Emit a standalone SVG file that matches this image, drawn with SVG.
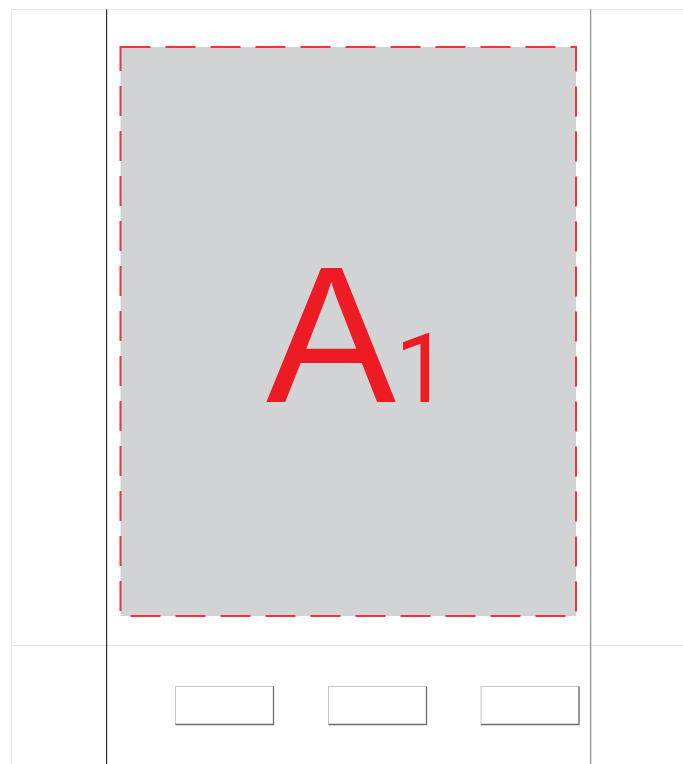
<svg xmlns="http://www.w3.org/2000/svg" width="683" height="764" viewBox="0 0 683 764">
<style>
.frame{stroke:#e6e6e6;stroke-width:1.2;fill:none}
.btn{fill:#ffffff;stroke:#c8c8c8;stroke-width:1}
.btnsh{stroke:#6d6d6d;stroke-width:1.3;fill:none}
.lbl{font-family:"Liberation Sans",Arial,sans-serif;fill:#ed1c24}
</style>
<rect width="683" height="764" fill="#ffffff"/>
<g id="frame">
<line class="frame" x1="11.5" y1="9.5" x2="683" y2="9.5"/>
<line class="frame" x1="11.5" y1="9.5" x2="11.5" y2="764"/>
<line class="frame" x1="11.5" y1="645.5" x2="683" y2="645.5"/>
<line x1="106.6" y1="9.5" x2="106.6" y2="764" stroke="#333333" stroke-width="1.2"/>
<line x1="590.6" y1="9.5" x2="590.6" y2="764" stroke="#9a9a9a" stroke-width="1.4"/>
</g>
<g id="area-a1">
<rect x="120.5" y="47" width="455.5" height="569" fill="#d1d3d4" stroke="#ef3340" stroke-width="2" stroke-dasharray="30 15"/>
<text class="lbl" x="266" y="402" font-size="195">A</text>
<text x="395" y="402" font-size="96" fill="#ed1c24" font-family="Roboto, Arial, sans-serif">1</text>
</g>
<g id="btn1">
<rect class="btn" x="175.5" y="686.5" width="98" height="38"/>
<polyline class="btnsh" points="273.5,686.5 273.5,724.5 175.5,724.5"/>
</g>
<g id="btn2">
<rect class="btn" x="328.5" y="686.5" width="98" height="38"/>
<polyline class="btnsh" points="426.5,686.5 426.5,724.5 328.5,724.5"/>
</g>
<g id="btn3">
<rect class="btn" x="481" y="686.5" width="98" height="38"/>
<polyline class="btnsh" points="579,686.5 579,724.5 481,724.5"/>
</g>
<g id="connectors"></g>
</svg>
